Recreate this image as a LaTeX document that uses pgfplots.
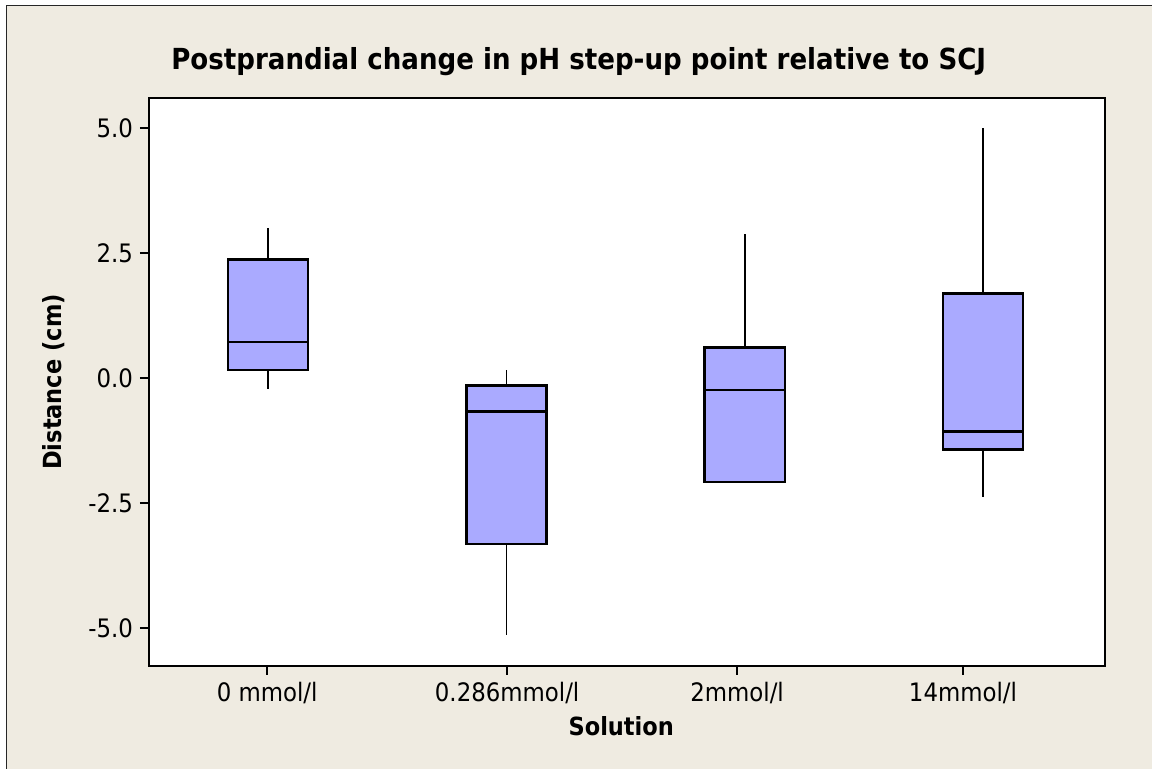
\documentclass[border=0pt]{standalone}
\usepackage{fontspec}
\setmainfont{DejaVu Sans}[FakeStretch=0.9]
\usepackage{pgfplots}
\pgfplotsset{compat=1.18}
\usepgfplotslibrary{statistics}
\definecolor{bgbeige}{RGB}{239,235,225}
\definecolor{boxblue}{RGB}{170,170,255}
\begin{document}
\begin{tikzpicture}[x=1pt,y=1pt]
\useasboundingbox (0,0) rectangle (576,384.5);
\fill[white] (0,0) rectangle (576,384.5);
\fill[bgbeige] (3.25,0) rectangle (576,381.75);
\draw[line width=0.8pt, draw=black!85] (3.25,0) -- (3.25,381.75) -- (576,381.75);
\node[anchor=base, font=\bfseries\fontsize{14.5}{17}\selectfont] at (289.35,349.5) {Postprandial change in pH step-up point relative to SCJ};
\begin{axis}[
  at={(74.5pt,51.5pt)}, anchor=south west,
  scale only axis, width=478pt, height=284pt,
  xmin=0.5, xmax=4.512, ymin=-5.76, ymax=5.6,
  xtick={0.996,2.003,2.968,3.916},
  xticklabels={0 mmol/l,0.286mmol/l,2mmol/l,14mmol/l},
  ytick={-5,-2.5,0,2.5,5},
  yticklabels={-5.0,-2.5,0.0,2.5,5.0},
  tick align=outside, tick pos=left,
  major tick length=4.5pt,
  tick style={black, line width=0.8pt},
  axis line style={line width=1.1pt},
  axis background/.style={fill=white},
  tick label style={font=\fontsize{12.7}{15}\selectfont},
  xlabel={Solution}, ylabel={Distance (cm)},
  label style={font=\bfseries\fontsize{12.5}{15}\selectfont},
  xlabel style={at={(axis description cs:0.494,-0.1056)}, anchor=center},
  ylabel style={at={(axis description cs:-0.0994,0.5)}, anchor=center},
  boxplot/draw direction=y,
  boxplot/whisker extend=0,
  boxplot/box extend=0.336,
  boxplot/every whisker/.style={line width=0.9pt},
  boxplot/every box/.style={line width=1.2pt},
  boxplot/every median/.style={line width=1.1pt},
]
\addplot[fill=boxblue, draw=black, boxplot prepared={lower whisker=-0.23, lower quartile=0.16, median=0.72, upper quartile=2.37, upper whisker=3.0, draw position=1}] coordinates {};
\addplot[fill=boxblue, draw=black, boxplot prepared={lower whisker=-5.14, lower quartile=-3.32, median=-0.67, upper quartile=-0.15, upper whisker=0.16, draw position=2}] coordinates {};
\addplot[fill=boxblue, draw=black, boxplot prepared={lower whisker=-2.08, lower quartile=-2.08, median=-0.24, upper quartile=0.61, upper whisker=2.88, draw position=3}] coordinates {};
\addplot[fill=boxblue, draw=black, boxplot prepared={lower whisker=-2.39, lower quartile=-1.43, median=-1.07, upper quartile=1.69, upper whisker=5.0, draw position=4}] coordinates {};
\end{axis}
\end{tikzpicture}
\end{document}
